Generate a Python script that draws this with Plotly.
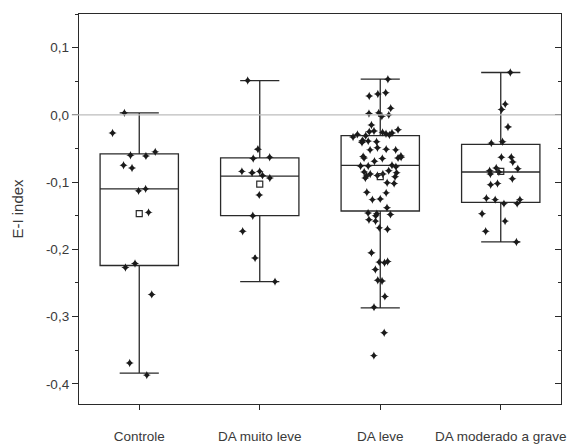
import plotly.graph_objects as go

categories = ["Controle", "DA muito leve", "DA leve", "DA moderado a grave"]

# box statistics
q1 = [-0.224, -0.150, -0.143, -0.130]
median = [-0.110, -0.091, -0.075, -0.085]
q3 = [-0.058, -0.064, -0.031, -0.044]
lowerfence = [-0.384, -0.248, -0.287, -0.189]
upperfence = [0.003, 0.051, 0.053, 0.063]
means = [-0.147, -0.103, -0.092, -0.084]

# individual points per group
controle = [0.003, -0.027, -0.060, -0.055, -0.061, -0.079, -0.075, -0.113, -0.110,
            -0.145, -0.227, -0.221, -0.267, -0.369, -0.387]
muito_leve = [0.051, -0.051, -0.063, -0.065, -0.084, -0.094, -0.090, -0.084, -0.086,
              -0.119, -0.150, -0.173, -0.213, -0.248]
leve = [0.053, 0.028, 0.033, 0.031, 0.010, 0.003, 0.002, 0.000, -0.002, -0.015,
        -0.024, -0.026, -0.027, -0.028, -0.030, -0.025, -0.029, -0.031, -0.033, -0.022,
        -0.039, -0.038, -0.040, -0.041, -0.039, -0.049, -0.052, -0.051, -0.052,
        -0.061, -0.064, -0.063, -0.065, -0.064, -0.062, -0.069,
        -0.076, -0.075, -0.077, -0.076, -0.083, -0.085, -0.088, -0.092,
        -0.090, -0.088, -0.094, -0.091, -0.086, -0.102, -0.101,
        -0.116, -0.115, -0.126, -0.125, -0.138, -0.148, -0.146, -0.150, -0.147,
        -0.158, -0.156, -0.170, -0.168, -0.205, -0.219, -0.220, -0.218, -0.230,
        -0.246, -0.247, -0.270, -0.286, -0.324, -0.358]
moderado = [0.063, 0.016, 0.008, -0.018, -0.042, -0.040, -0.063, -0.070, -0.063,
            -0.079, -0.085, -0.088, -0.080, -0.083, -0.095, -0.104, -0.102, -0.126,
            -0.132, -0.132, -0.126, -0.124, -0.147, -0.158, -0.173, -0.189]

groups = [controle, muito_leve, leve, moderado]

tick_vals = [0.1, 0.0, -0.1, -0.2, -0.3, -0.4]
tick_text = ["0,1", "0,0", "-0,1", "-0,2", "-0,3", "-0,4"]

font = "Liberation Sans, Arial, sans-serif"
dark = "#2a2a2a"
txt = "#3a3a3a"

fig = go.Figure()

fig.add_trace(go.Box(
    x=categories, q1=q1, median=median, q3=q3,
    lowerfence=lowerfence, upperfence=upperfence,
    boxpoints=False, width=0.65, whiskerwidth=0.5,
    fillcolor="white", line=dict(color=dark, width=1.3),
    showlegend=False, hoverinfo="skip",
))

px, py = [], []
for c, vals in zip(categories, groups):
    px += [c] * len(vals)
    py += vals

fig.add_trace(go.Box(
    x=px, y=py, boxpoints="all", jitter=0.7, pointpos=0, width=0.65,
    fillcolor="rgba(0,0,0,0)", line=dict(color="rgba(0,0,0,0)", width=0),
    marker=dict(symbol="star-diamond", size=6, color="#1a1a1a"),
    showlegend=False, hoverinfo="skip",
))

fig.add_trace(go.Scatter(
    x=categories, y=means, mode="markers",
    marker=dict(symbol="square-open", size=6, color=dark, line=dict(width=1.2)),
    showlegend=False, hoverinfo="skip",
))

fig.add_trace(go.Scatter(x=[], y=[], yaxis="y2", showlegend=False))

fig.add_shape(type="line", xref="paper", yref="y", x0=-0.015, x1=1, y0=0, y1=0,
              line=dict(color="#bdbdbd", width=1.2), layer="above")

yrange = [-0.43, 0.15]

fig.update_layout(
    width=583, height=448,
    margin=dict(l=79, r=22, t=14, b=44),
    plot_bgcolor="white", paper_bgcolor="white",
    boxmode="overlay",
    font=dict(family=font, size=13, color=txt),
    xaxis=dict(
        type="category", range=[-0.5, 3.5], automargin=False,
        showline=True, linecolor=dark, linewidth=1.3, mirror=True,
        ticks="outside", ticklen=5, tickcolor=dark, tickwidth=1.2,
        ticklabelstandoff=15,
        showgrid=False, zeroline=False,
        tickfont=dict(size=13.5, color=txt),
    ),
    yaxis=dict(
        range=yrange, tickvals=tick_vals, ticktext=tick_text,
        showline=True, linecolor=dark, linewidth=1.3,
        ticks="outside", ticklen=6, tickcolor=dark, tickwidth=1.2,
        minor=dict(dtick=0.05, tick0=0, ticks="outside", ticklen=3, tickcolor=dark, tickwidth=1.2),
        showgrid=False, zeroline=False,
        title=dict(text="E-I index", font=dict(size=15, color=txt), standoff=18),
        tickfont=dict(size=13.5, color=txt),
    ),
    yaxis2=dict(
        overlaying="y", side="right", range=yrange, tickvals=tick_vals,
        showticklabels=False, showline=True, linecolor=dark, linewidth=1.3,
        ticks="inside", ticklen=6, tickcolor=dark, tickwidth=1.2,
        minor=dict(dtick=0.05, tick0=0, ticks="inside", ticklen=3, tickcolor=dark, tickwidth=1.2),
        showgrid=False, zeroline=False,
    ),
)

fig.write_html("out.html", config={"displayModeBar": False},
               post_script="document.body.style.margin='0';")
